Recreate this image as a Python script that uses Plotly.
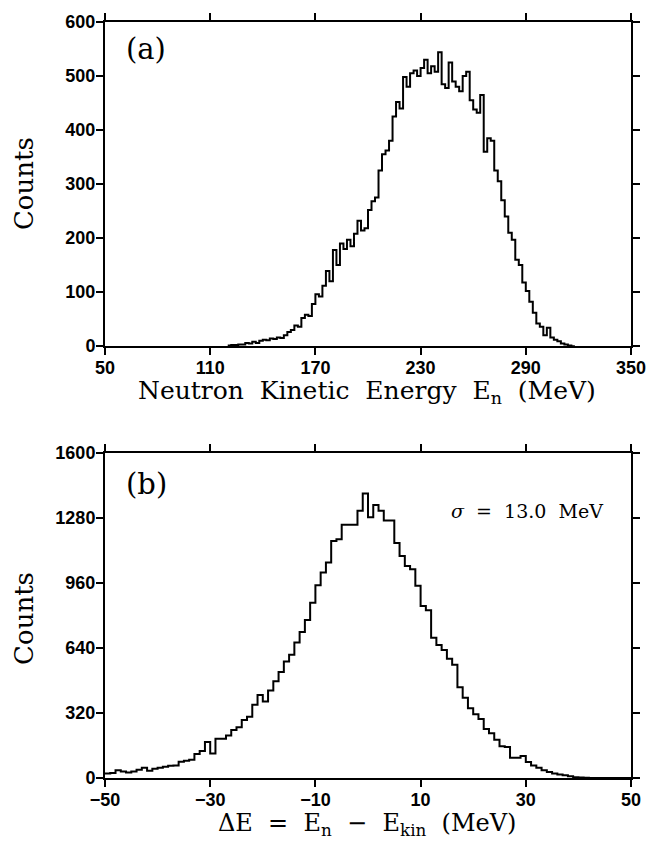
import plotly.graph_objects as go

# ---------------- data ----------------
# (a) neutron kinetic energy histogram, 2 MeV bins starting at 120 MeV
en_edges = list(range(120, 320, 2))
en_counts = [
    1, 2, 2, 3, 3, 6, 5, 8, 6, 10,
    12, 11, 14, 13, 16, 15, 20, 26, 30, 38,
    36, 52, 58, 56, 78, 96, 92, 112, 139, 120,
    178, 150, 190, 180, 197, 185, 208, 232, 214, 218,
    252, 268, 275, 325, 355, 362, 380, 425, 452, 440,
    498, 480, 505, 510, 500, 515, 530, 505, 518, 508,
    544, 485, 478, 525, 490, 480, 472, 500, 508, 455,
    438, 432, 465, 360, 385, 380, 325, 305, 270, 240,
    210, 197, 160, 150, 118, 102, 82, 62, 42, 36,
    20, 34, 16, 12, 9, 5, 3, 1, 0,
]
en_xticks = [50, 110, 170, 230, 290, 350]
en_yticks = [0, 100, 200, 300, 400, 500, 600]

# (b) energy difference histogram, 1 MeV bins from -50 to 50 MeV
de_edges = list(range(-50, 51))
de_counts = [
    22, 25, 38, 32, 27, 32, 40, 50, 36, 45,
    50, 55, 60, 62, 80, 85, 90, 118, 133, 177,
    120, 193, 193, 209, 236, 250, 285, 301, 360, 408,
    376, 431, 476, 522, 573, 606, 667, 719, 778, 862,
    949, 1011, 1061, 1166, 1175, 1246, 1246, 1246, 1315, 1400,
    1283, 1343, 1315, 1267, 1267, 1157, 1092, 1043, 1027, 946,
    846, 825, 690, 655, 630, 587, 557, 447, 395, 343,
    314, 290, 241, 220, 188, 156, 152, 100, 100, 108,
    79, 62, 51, 38, 30, 22, 17, 14, 9, 4,
    2, 1, 0, 0, 0, 0, 0, 0, 0, 0,
]
de_xticks = [-50, -30, -10, 10, 30, 50]
de_yticks = [0, 320, 640, 960, 1280, 1600]

# ---------------- figure ----------------
W, H = 660, 844
ML, MR, MT, MB = 105, 29, 13, 66
PH = H - MT - MB


def py(p):
    return (H - MB - p) / PH


def px_x(p):
    return (p - ML) / (W - ML - MR)


fig = go.Figure()
fig.add_trace(go.Scatter(
    x=en_edges, y=en_counts + [en_counts[-1]], mode="lines",
    line=dict(shape="hv", color="black", width=2),
    xaxis="x", yaxis="y", showlegend=False, hoverinfo="skip"))
fig.add_trace(go.Scatter(
    x=de_edges, y=de_counts + [de_counts[-1]], mode="lines",
    line=dict(shape="hv", color="black", width=2),
    xaxis="x2", yaxis="y2", showlegend=False, hoverinfo="skip"))

tickfont = dict(family="Liberation Sans, Arial, sans-serif", size=18,
                color="black", weight="bold")
axcommon = dict(showline=True, linecolor="black", linewidth=2, mirror="ticks",
                ticks="outside", ticklen=7, tickwidth=2, tickcolor="black",
                showgrid=False, zeroline=False, tickfont=tickfont,
                ticklabelstandoff=-3)

fig.update_layout(
    width=W, height=H,
    margin=dict(l=ML, r=MR, t=MT, b=MB),
    paper_bgcolor="white", plot_bgcolor="white",
    xaxis=dict(domain=[0, 1], anchor="y", range=[50, 350],
               tickvals=en_xticks, ticktext=[str(v) for v in en_xticks],
               **axcommon),
    yaxis=dict(domain=[py(341), 1], anchor="x", range=[0, 600],
               tickvals=en_yticks, **axcommon),
    xaxis2=dict(domain=[0, 1], anchor="y2", range=[-50, 50],
                tickvals=de_xticks,
                ticktext=[("\u2212" + str(-v)) if v < 0 else str(v) for v in de_xticks],
                **axcommon),
    yaxis2=dict(domain=[0, py(449)], anchor="x2", range=[0, 1600],
                tickvals=de_yticks, **axcommon),
)

serif = "DejaVu Serif, Liberation Serif, serif"
sp = "\u00a0"
ann = []
ann.append(dict(text="Counts", x=px_x(24), y=py(177), textangle=-90,
                font=dict(family=serif, size=26, color="black")))
ann.append(dict(text="Counts", x=px_x(24), y=py(617), textangle=-90,
                font=dict(family=serif, size=26, color="black")))
ann.append(dict(text=f"Neutron{sp} Kinetic{sp} Energy{sp} E<sub>n</sub>{sp} (MeV)",
                x=px_x(367), y=py(387),
                font=dict(family=serif, size=25, color="black")))
ann.append(dict(text=f"\u0394E{sp} ={sp} E<sub>n</sub>{sp} \u2212{sp} E<sub>kin</sub>{sp} (MeV)",
                x=px_x(367), y=py(825),
                font=dict(family=serif, size=24, color="black")))
ann.append(dict(text="(a)", x=px_x(146), y=py(40),
                font=dict(family=serif, size=29, color="black")))
ann.append(dict(text="(b)", x=px_x(146), y=py(481),
                font=dict(family=serif, size=29, color="black")))
ann.append(dict(text=f"<i>\u03c3</i>{sp} ={sp} 13.0{sp} MeV", x=px_x(527), y=py(508),
                font=dict(family=serif, size=19, color="black")))

for a in ann:
    a.update(xref="paper", yref="paper", showarrow=False,
             xanchor="center", yanchor="middle")
fig.update_layout(annotations=ann)

fig.write_html("out.html", config={"displayModeBar": False},
               post_script="document.body.style.margin='0';document.body.style.overflow='hidden';")
